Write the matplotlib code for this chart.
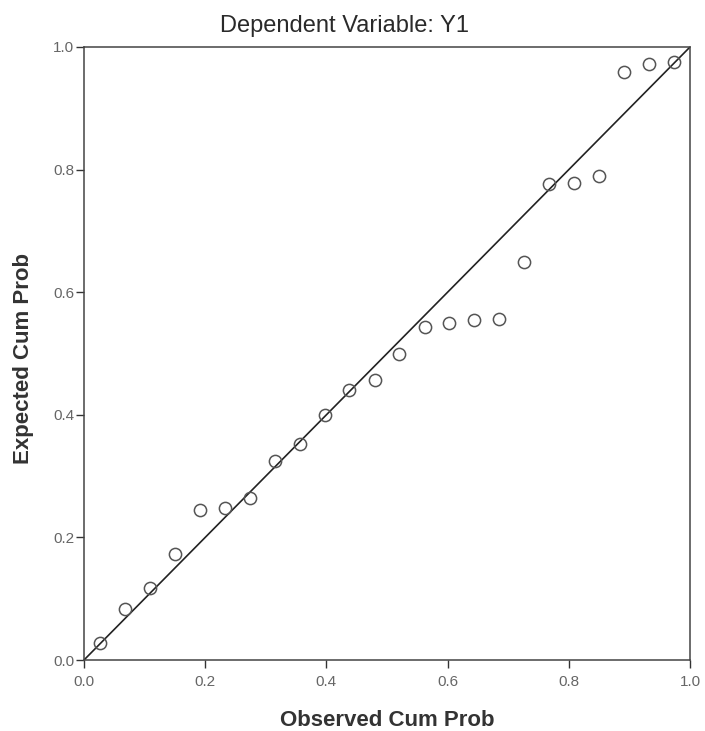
import matplotlib
matplotlib.use('Agg')
from matplotlib import pyplot as plt

# P-P plot of regression standardized residual
observed = [0.0258, 0.0670, 0.1082, 0.1495, 0.1907, 0.2320, 0.2732, 0.3144,
            0.3557, 0.3969, 0.4381, 0.4794, 0.5206, 0.5619, 0.6031, 0.6443,
            0.6856, 0.7268, 0.7680, 0.8093, 0.8505, 0.8918, 0.9330, 0.9742]
expected = [0.028, 0.083, 0.117, 0.173, 0.245, 0.248, 0.264, 0.325,
            0.352, 0.400, 0.440, 0.457, 0.499, 0.543, 0.550, 0.555,
            0.556, 0.649, 0.777, 0.778, 0.790, 0.959, 0.972, 0.976]
ticks = [0.0, 0.2, 0.4, 0.6, 0.8, 1.0]
tick_labels = ['0.0', '0.2', '0.4', '0.6', '0.8', '1.0']

plt.rcParams['font.family'] = ['Liberation Sans', 'DejaVu Sans']

fig = plt.figure(figsize=(7.05, 7.31), dpi=100)
ax = fig.add_axes([84 / 705, 71 / 731, 606 / 705, 613 / 731])

ax.plot([0, 1], [0, 1], color='#222222', linewidth=1.2, zorder=2)
ax.plot(observed, expected, linestyle='none', marker='o', markersize=8.8,
        markerfacecolor='none', markeredgecolor='#555555',
        markeredgewidth=1.1, zorder=3)

ax.set_xlim(0, 1)
ax.set_ylim(0, 1)
ax.set_xticks(ticks)
ax.set_xticklabels(tick_labels)
ax.set_yticks(ticks)
ax.set_yticklabels(tick_labels)
ax.tick_params(direction='out', length=6, width=1, color='#333333',
               labelsize=11, labelcolor='#666666')
ax.tick_params(axis='x', pad=5)
ax.tick_params(axis='y', pad=1)
for s in ax.spines.values():
    s.set_color('#444444')
    s.set_linewidth(1.1)

fig.text(345 / 705, 1 - 32 / 731, 'Dependent Variable: Y1', ha='center',
         va='baseline', fontsize=17, color='#2a2a2a')
fig.text(387 / 705, 1 - 726 / 731, 'Observed Cum Prob', ha='center',
         va='baseline', fontsize=16, fontweight='bold', color='#333333')
fig.text(24 / 705, 1 - 358 / 731, 'Expected Cum Prob', ha='center',
         va='center', rotation=90, fontsize=16, fontweight='bold',
         color='#333333')

fig.savefig('out.png', dpi=100)
